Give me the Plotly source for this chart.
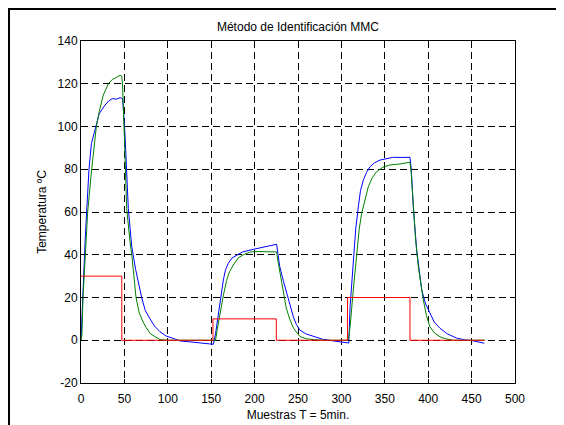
"""Metodo de Identificacion MMC - salida medida, modelo y entrada."""
import plotly.graph_objects as go

# salida medida (azul)
y_real_t = [0, 1.5, 3, 4.6, 6.5, 9.2, 12, 16.9, 21, 27.6, 32, 36, 41, 45, 48,
            50.7, 54.5, 58.4, 63, 69.9, 74, 79.5, 85, 91, 98, 106, 114, 129,
            144.8, 152.5, 155, 158.2, 161, 164, 166.5, 169.7, 174, 179.4, 186,
            194.7, 204, 214, 220, 225.4, 227, 229, 233, 237, 241, 244.6, 248,
            252, 259, 267.6, 278, 290.6, 300, 306.5, 308.5, 310, 313.7, 316.5,
            319.5, 322, 325.3, 329, 333, 338, 344.5, 352, 359.9, 369, 379,
            380.5, 382.8, 386.7, 392.5, 397, 402, 407, 413.6, 422, 432.8, 442,
            452, 458, 464.6]
y_real = [0, 18, 33, 45, 60, 80, 92, 100, 106, 110, 112, 113, 112.8, 113.5, 113,
          96, 61.7, 44, 33, 20, 14, 10, 6.5, 4, 2, 0.9, -0.3, -0.9,
          -1.4, -1.9, 3, 12.6, 21, 28.2, 33, 36, 38.5, 39.9, 41.3,
          42.2, 43, 43.8, 44.1, 44.9, 40, 34.4, 28, 22, 16, 11, 7.5,
          4.8, 3, 1.7, 0.5, -0.3, -0.8, -1.1, -1.3, 15.7, 39.1, 52,
          62.5, 70, 75, 78.5, 81.2, 83, 84.3, 85, 85.6, 85.5, 85.6,
          80, 62.5, 42.2, 23.5, 17, 12.6, 8.5, 5.6, 3, 1, 0.2,
          -0.3, -0.8, -1.4]

# salida del modelo (verde)
y_mod_t = [0, 1, 2.3, 4.6, 7.7, 12.3, 17.7, 21, 25.7, 31.5, 36, 41, 45, 47, 48,
           50, 52.6, 56.5, 58.5, 63.4, 67, 71, 75, 80, 86, 91, 100, 150, 155,
           157, 160, 164, 167.8, 171, 175.5, 181, 187, 194.7, 205, 225.4,
           226.5, 229, 233, 236.5, 240.8, 245, 252.3, 260, 267.6, 280, 308,
           310, 313.7, 317.6, 320.5, 323.4, 327, 331, 335.5, 340.7, 348, 356,
           368, 379, 380.5, 382.8, 385.5, 388.6, 394.4, 398, 402, 407, 413.6,
           420, 429, 465]
y_mod = [0, 2, 20, 38, 60, 80, 100, 107, 114.7, 120, 122, 123, 124, 123.5, 118,
         95, 61.7, 46, 40, 20, 13, 9, 6, 3, 1.5, 0.3, 0, 0, 0,
         5, 12.6, 21, 28, 32, 35.2, 38.5, 40, 41.3, 41.5, 41.3,
         38, 32, 22, 15, 9.5, 5.5, 1.7, 0.7, 0.3, 0, 0,
         6.3, 23.5, 42.2, 52, 59.4, 66, 71.8, 76, 78.9, 81, 82,
         82.5, 83.3, 78, 62.5, 47, 34.4, 18.8, 11.5, 6.3, 3.5, 1.6,
         0.7, 0, 0]

# entrada (rojo)
u_t = [0, 47, 47, 152, 152, 225, 225, 307, 307, 379, 379, 465]
u = [30, 30, 0, 0, 10, 10, 0, 0, 20, 20, 0, 0]

x_ticks = [0, 50, 100, 150, 200, 250, 300, 350, 400, 450, 500]
y_ticks = [-20, 0, 20, 40, 60, 80, 100, 120, 140]

FONT = "Liberation Sans, Arial, sans-serif"

fig = go.Figure()
for xs, ys, color in ((y_real_t, y_real, "#0000ff"),
                      (y_mod_t, y_mod, "#008000"),
                      (u_t, u, "#ff0000")):
    fig.add_trace(go.Scatter(x=xs, y=ys, mode="lines",
                             line={"width": 1, "color": color},
                             showlegend=False))

axis_common = dict(
    showline=True, linecolor="black", linewidth=1, mirror="ticks",
    ticks="inside", ticklen=4, tickcolor="black", automargin=False,
    showgrid=True, gridcolor="black", gridwidth=1, griddash="7px,4px",
    zeroline=False, tickfont={"size": 12, "color": "black", "family": FONT},
)

fig.update_xaxes(range=[0, 500], tickvals=x_ticks,
                 ticktext=[str(v) for v in x_ticks], ticklabelstandoff=5,
                 title={"text": "Muestras T = 5min.", "standoff": 5,
                        "font": {"size": 12, "color": "black", "family": FONT}},
                 **axis_common)
fig.update_yaxes(range=[-20, 140], tickvals=y_ticks,
                 ticktext=[str(v) for v in y_ticks],
                 title={"text": "Temperatura ºC", "standoff": 8,
                        "font": {"size": 12, "color": "black", "family": FONT}},
                 **axis_common)

# marco negro de la figura
fig.add_shape(type="rect", xref="paper", yref="paper",
              x0=-0.1659, y0=-0.3, x1=1.3, y1=1.0936,
              line={"color": "black", "width": 2}, fillcolor="rgba(0,0,0,0)",
              layer="above")

fig.update_layout(
    width=556, height=417,
    margin={"l": 73, "r": 49, "t": 33, "b": 42},
    paper_bgcolor="white", plot_bgcolor="white",
    font={"family": FONT, "size": 12, "color": "black"},
    title={"text": "Método de Identificación MMC", "x": 0.5, "xref": "paper",
           "y": 1 - 19 / 417, "yref": "container", "yanchor": "middle",
           "xanchor": "center", "font": {"size": 12, "color": "black"}},
)

fig.write_html("out.html")
